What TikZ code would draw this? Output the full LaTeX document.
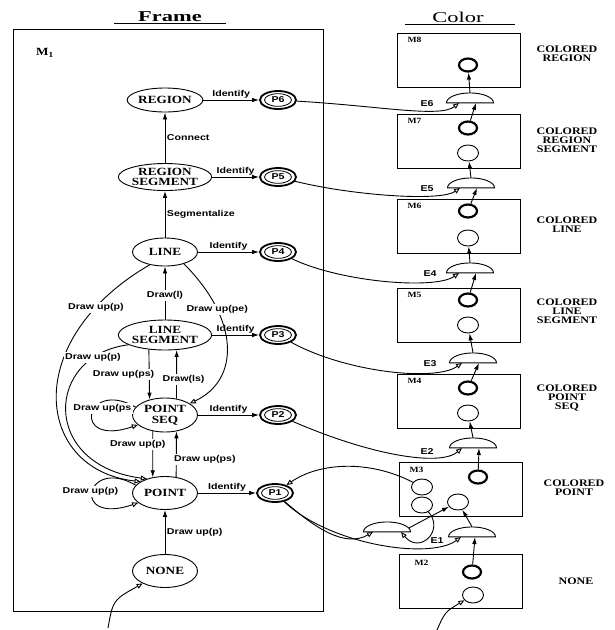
\documentclass[tikz,border=0pt]{standalone}
\usepackage{fontspec}
\setmainfont{Liberation Serif}
\setsansfont{Liberation Sans}
\newfontfamily\wideserif[FakeStretch=1.2]{Liberation Serif}
\newfontfamily\widesans[FakeStretch=1.25]{Liberation Sans}
\newfontfamily\titleserif[FakeStretch=1.5]{Liberation Serif}
\usetikzlibrary{arrows.meta, shapes}

\begin{document}
\begin{tikzpicture}[x=1pt, y=-1pt, line width=0.9pt,
    state/.style={draw, ellipse, fill=white, minimum width=65pt, minimum height=28pt, inner sep=0pt, align=center, font=\wideserif\bfseries\fontsize{11}{9.5}\selectfont},
    accept/.style={draw, ellipse, line width=1.8pt, minimum width=36pt, minimum height=18pt, inner sep=0pt, font=\widesans\bfseries\fontsize{8.5}{9}\selectfont, path picture={\draw[line width=0.8pt] (path picture bounding box.center) ellipse (13.5pt and 6.3pt);}},
    lab/.style={font=\widesans\bfseries\fontsize{8.5}{9}\selectfont, inner sep=1.5pt},
    mbox/.style={draw, minimum width=123pt, minimum height=54pt, inner sep=0pt},
    hot/.style={draw, ellipse, line width=2.2pt, minimum width=18pt, minimum height=13pt, inner sep=0pt},
    cold/.style={draw, ellipse, line width=0.9pt, minimum width=21pt, minimum height=16pt, inner sep=0pt},
    gate/.style={draw, semicircle, minimum width=47pt, inner sep=0pt, yscale=0.42, transform shape, anchor=chord center},
    glab/.style={font=\widesans\bfseries\fontsize{8.5}{9}\selectfont, inner sep=0pt},
    mlab/.style={font=\wideserif\bfseries\fontsize{8}{9}\selectfont, anchor=north west, inner sep=0pt},
    side/.style={font=\wideserif\bfseries\fontsize{10}{9}\selectfont, align=center},
    title/.style={font=\titleserif\fontsize{15}{16}\selectfont},
    fwd/.style={-{Latex[length=7pt, width=4.5pt]}},
    opn/.style={-{Triangle[open, length=6pt, width=5pt]}}]
\useasboundingbox (0,0) rectangle (614,630);

\node[title] (ftitle) at (170,17) {\bfseries Frame};
\draw ([xshift=-20pt, yshift=-2pt]ftitle.base west) -- ([xshift=20pt, yshift=-2pt]ftitle.base east);
\node[title] (ctitle) at (458,17) {Color};
\draw ([xshift=-24pt, yshift=-2pt]ctitle.base west) -- ([xshift=28pt, yshift=-2pt]ctitle.base east);

\draw (13,29) rectangle (323,611);
\node[font=\wideserif\bfseries\fontsize{11}{12}\selectfont] (mone) at (45,53) {M\textsubscript{1}};

\node[state, minimum height=24pt] (reg) at (165,100) {REGION};
\node[state, minimum height=27pt] (regseg) at (165,177) {REGION\\SEGMENT};
\node[state] (line) at (165,252) {LINE};
\node[state, minimum height=30pt] (lineseg) at (165,335) {LINE\\SEGMENT};
\node[state, minimum height=34pt] (ptseq) at (165,415) {POINT\\[2pt]SEQ};
\node[state, minimum height=33pt] (pt) at (165,493) {POINT};
\node[state, minimum height=33pt] (none) at (165,571) {NONE};

\node[accept] (p6) at (278,100) {P6};
\node[accept] (p5) at (278,177) {P5};
\node[accept] (p4) at (278,252) {P4};
\node[accept] (p3) at (278,335) {P3};
\node[accept] (p2) at (278,415) {P2};
\node[accept] (p1) at (275,493) {P1};

\draw[fwd] (reg) -- node[lab, above] {Identify} (p6);
\draw[fwd] (regseg) -- node[lab, above] {Identify} (p5);
\draw[fwd] (line) -- node[lab, above] {Identify} (p4);
\draw[fwd] (lineseg) -- node[lab, above] {Identify} (p3);
\draw[fwd] (ptseq) -- node[lab, above] {Identify} (p2);
\draw[fwd] (pt) -- node[lab, above] {Identify} (p1);

\draw[fwd] (regseg) -- node[lab, right] {Connect} (reg);
\draw[fwd] (line) -- node[lab, right] {Segmentalize} (regseg);
\draw[fwd] (lineseg) -- node[lab, fill=white, pos=.45] {Draw(l)} (line);
\draw[fwd] (lineseg.-138) -- node[lab, fill=white, anchor=east, xshift=7pt] {Draw up(ps)} (ptseq.135);
\draw[fwd] (ptseq.55) -- node[lab, fill=white, pos=.4, xshift=7pt] {Draw(ls)} (lineseg.-52);
\draw[fwd] (ptseq.-127) -- node[lab, fill=white, pos=.28, xshift=-15pt] {Draw up(p)} (pt.128);
\draw[fwd] (pt.55) -- node[lab, fill=white, pos=.38, anchor=west, xshift=-4pt] {Draw up(ps)} (ptseq.-55);
\draw[fwd] (none) -- node[lab, right] {Draw up(p)} (pt);

\draw[opn] (ptseq.165) .. controls (85,378) and (70,448) .. (ptseq.200) node[lab, pos=.5, fill=white, xshift=10pt, yshift=5pt] {Draw up(ps};
\draw[opn] (pt.165) .. controls (85,456) and (70,526) .. (pt.200) node[lab, pos=.5, fill=white, xshift=-2pt] {Draw up(p)};
\draw[opn] (line.-140) .. controls (20,340) and (35,470) .. (pt.155) node[lab, pos=.17, fill=white] {Draw up(p)};
\draw[opn] (lineseg.195) .. controls (45,355) and (40,465) .. (pt.142) node[lab, pos=.17, fill=white] {Draw up(p)};
\draw[opn] (line.-32) .. controls (240,320) and (240,380) .. (ptseq.25) node[lab, pos=.27, fill=white] {Draw up(pe)};

\coordinate (nstart) at (108,628);
\draw[opn] (nstart) .. controls (113,600) .. (none);

\node[mbox] (m8) at (459,60) {};
\node[mbox] (m7) at (459,141) {};
\node[mbox] (m6) at (459,226) {};
\node[mbox] (m5) at (459,315) {};
\node[mbox] (m4) at (459,401) {};
\node[mbox] (m3) at (461,489) {};
\node[mbox] (m2) at (461,581) {};
\node[mlab] (m8lab) at ([xshift=10pt, yshift=-4pt]m8.north west) {M8};
\node[mlab] (m7lab) at ([xshift=10pt, yshift=-4pt]m7.north west) {M7};
\node[mlab] (m6lab) at ([xshift=10pt, yshift=-4pt]m6.north west) {M6};
\node[mlab] (m5lab) at ([xshift=10pt, yshift=-4pt]m5.north west) {M5};
\node[mlab] (m4lab) at ([xshift=10pt, yshift=-4pt]m4.north west) {M4};
\node[mlab] (m3lab) at ([xshift=10pt, yshift=-5pt]m3.north west) {M3};
\node[mlab] (m2lab) at ([xshift=15pt, yshift=-6pt]m2.north west) {M2};

\node[hot] (k8) at (468,65) {};
\node[hot] (k7) at (468,128) {};
\node[cold] (s7) at (468,153) {};
\node[hot] (k6) at (468,211) {};
\node[cold] (s6) at (468,238) {};
\node[hot] (k5) at (468,300) {};
\node[cold] (s5) at (468,325) {};
\node[hot] (k4) at (468,388) {};
\node[cold] (s4) at (468,413) {};
\node[hot] (k3) at (478,477) {};
\node[cold] (a3) at (422,487) {};
\node[cold] (b3) at (422,505) {};
\node[cold] (s3) at (458,502) {};
\node[hot] (k2) at (472,572) {};
\node[cold] (s2) at (473,595) {};

\node[side] (c8) at (567,54) {COLORED\\REGION};
\node[side] (c7) at (567,140) {COLORED\\REGION\\SEGMENT};
\node[side] (c6) at (567,225) {COLORED\\LINE};
\node[side] (c5) at (567,311) {COLORED\\LINE\\SEGMENT};
\node[side] (c4) at (567,398) {COLORED\\POINT\\SEQ};
\node[side] (c3) at (574,488) {COLORED\\POINT};
\node[side] (c2) at (576,581) {NONE};

\node[gate] (e6) at (470,103) {};
\node[gate] (e5) at (471,188) {};
\node[gate] (e4) at (470,273) {};
\node[gate] (e3) at (473,363) {};
\node[gate] (e2) at (473,448) {};
\node[gate] (e1) at (472,537) {};
\node[gate] (g0) at (387,532) {};
\node[glab] (e6lab) at (427,104) {E6};
\node[glab] (e5lab) at (427,189) {E5};
\node[glab] (e4lab) at (430,274) {E4};
\node[glab] (e3lab) at (430,364) {E3};
\node[glab] (e2lab) at (427,452) {E2};
\node[glab] (e1lab) at (437,541) {E1};

\draw[fwd] (e6.apex) -- (k8);
\draw[fwd] (k7) -- ([xshift=6pt]e6.chord center);
\draw[opn] (p6) .. controls (380,106) and (440,118) .. ([xshift=-11pt]e6.chord center);
\draw[fwd] (e5.apex) -- (s7);
\draw[fwd] (k6) -- ([xshift=6pt]e5.chord center);
\draw[opn] (p5) .. controls (350,195) and (440,202) .. ([xshift=-11pt]e5.chord center);
\draw[fwd] (e4.apex) -- (s6);
\draw[fwd] (k5) -- ([xshift=6pt]e4.chord center);
\draw[opn] (p4) .. controls (340,282) and (435,290) .. ([xshift=-11pt]e4.chord center);
\draw[fwd] (e3.apex) -- (s5);
\draw[fwd] (k4) -- ([xshift=6pt]e3.chord center);
\draw[opn] (p3) .. controls (345,372) and (435,382) .. ([xshift=-11pt]e3.chord center);
\draw[fwd] (e2.apex) -- (s4);
\draw[fwd] (k3) -- ([xshift=6pt]e2.chord center);
\draw[opn] (p2) .. controls (370,455) and (440,467) .. ([xshift=-11pt]e2.chord center);
\draw[fwd] (e1.apex) -- (s3);
\draw[fwd] (k2) -- ([xshift=3pt]e1.chord center);
\draw[opn] (p1) .. controls (330,545) and (430,560) .. ([xshift=-11pt]e1.chord center);
\draw[fwd] (g0.east) -- (s3);
\draw[opn] (p1) .. controls (315,528) and (345,548) .. ([xshift=-14pt]g0.chord center);
\draw[opn] (b3) .. controls (445,530) and (420,555) .. ([xshift=14pt]g0.chord center);
\draw[opn] (a3) .. controls (370,460) and (320,462) .. (p1);

\coordinate (cstart) at (437,630);
\draw[opn] (cstart) .. controls (445,612) .. (s2);
\end{tikzpicture}
\end{document}
